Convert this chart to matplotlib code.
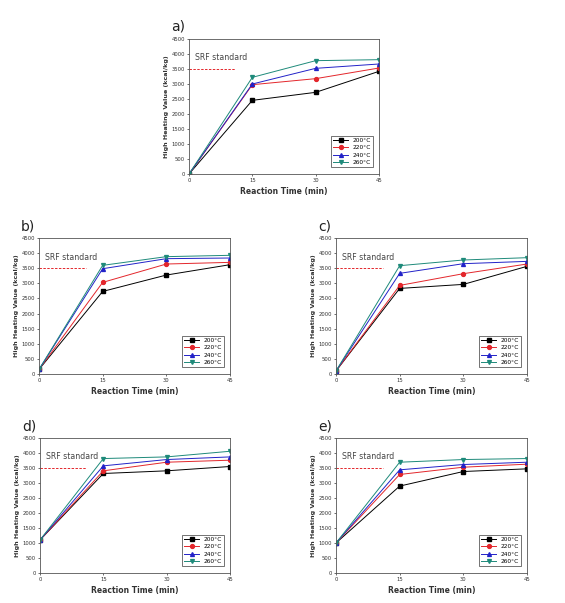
import matplotlib.pyplot as plt

# Dados
tempo = [0, 15, 30, 45]
temps = ["200°C", "220°C", "240°C", "260°C"]

a_200 = [0, 2455, 2722, 3422]
a_220 = [0, 2977, 3178, 3533]
a_240 = [0, 3000, 3522, 3667]
a_260 = [0, 3222, 3778, 3811]

b_200 = [150, 2732, 3274, 3617]
b_220 = [150, 3031, 3639, 3694]
b_240 = [150, 3484, 3816, 3838]
b_260 = [150, 3595, 3883, 3927]

c_200 = [100, 2832, 2965, 3562]
c_220 = [100, 2931, 3319, 3639]
c_240 = [100, 3330, 3650, 3727]
c_260 = [100, 3584, 3772, 3849]

d_200 = [1100, 3317, 3406, 3550]
d_220 = [1100, 3406, 3693, 3760]
d_240 = [1100, 3572, 3782, 3870]
d_260 = [1100, 3815, 3870, 4058]

e_200 = [1000, 2897, 3383, 3472]
e_220 = [1000, 3284, 3527, 3627]
e_240 = [1000, 3439, 3616, 3693]
e_260 = [1000, 3693, 3782, 3815]

srf = 3500
yticks = [0, 500, 1000, 1500, 2000, 2500, 3000, 3500, 4000, 4500]

cores = ["black", "#e3262b", "#2222c8", "#1e8a7a"]
marcadores = ["s", "o", "^", "v"]

W, H = 565, 603
fig = plt.figure(figsize=(W / 100, H / 100), dpi=100)


def painel(letra, box, series):
    x0, y0, x1, y1 = box
    ax = fig.add_axes([x0 / W, 1 - y1 / H, (x1 - x0) / W, (y1 - y0) / H])
    for s, cor, m, lab in zip(series, cores, marcadores, temps):
        ax.plot(tempo, s, color=cor, marker=m, markersize=2.8, linewidth=0.7, label=lab)
    ax.plot([0, 11], [srf, srf], color="#e3262b", linestyle="--", linewidth=0.7, dashes=(2.5, 1.5))
    ax.text(1.5, 3870, "SRF standard", fontsize=5.6, color="#444444", va="center")
    ax.set_xlim(0, 45)
    ax.set_ylim(0, 4500)
    ax.set_xticks([0, 15, 30, 45])
    ax.set_yticks(yticks)
    ax.tick_params(labelsize=3.8, length=1.5, width=0.5, colors="#333333", pad=1.5)
    for sp in ax.spines.values():
        sp.set_linewidth(0.6)
        sp.set_color("#555555")
    ax.set_xlabel("Reaction Time (min)", fontsize=5.5, fontweight="bold", color="#333333", labelpad=2.5)
    ax.set_ylabel("High Heating Value (kcal/kg)", fontsize=4.6, fontweight="bold", color="#333333", labelpad=2)
    leg = ax.legend(loc="lower right", fontsize=4.2, frameon=True, fancybox=False,
                    edgecolor="#333333", handlelength=2.5, borderpad=0.4,
                    labelspacing=0.35, bbox_to_anchor=(0.985, 0.03))
    leg.get_frame().set_linewidth(0.6)
    fig.text((x0 - 18) / W, 1 - (y0 - 12) / H, letra, fontsize=10, va="center", ha="left", color="#222222")


painel("a)", (189, 39, 379, 174), [a_200, a_220, a_240, a_260])
painel("b)", (39, 238, 230, 374), [b_200, b_220, b_240, b_260])
painel("c)", (336, 238, 527, 374), [c_200, c_220, c_240, c_260])
painel("d)", (40, 438, 230, 573), [d_200, d_220, d_240, d_260])
painel("e)", (336, 438, 527, 573), [e_200, e_220, e_240, e_260])

fig.savefig("out.png", dpi=100)
